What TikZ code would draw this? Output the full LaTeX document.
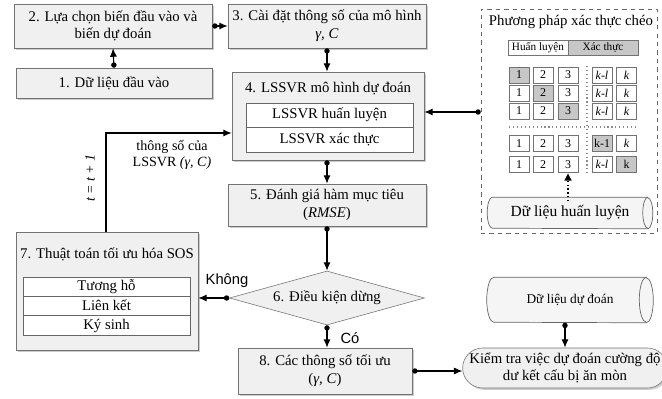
\documentclass[tikz,border=0pt]{standalone}
\usepackage{fontspec}
\setmainfont{Liberation Serif}
\newfontfamily\labelfont{Liberation Sans}
\usetikzlibrary{arrows.meta,shapes.geometric,shapes.misc,shadows}

\def\pxu{0.025cm}
\tikzset{
	stepbox/.style={draw=black!55, fill=black!6, align=center, inner sep=1pt,
		drop shadow={shadow xshift=1.3pt, shadow yshift=-1.3pt, fill=black!40},
		font=\fontsize{10.5}{12.5}\selectfont},
	subbox/.style={draw=black!60, fill=white, minimum width=167*\pxu, inner sep=0pt,
		font=\fontsize{10.5}{12}\selectfont},
	cell/.style={draw=black!55, fill=white, minimum width=20*\pxu, minimum height=16*\pxu,
		inner sep=0pt, font=\fontsize{8.5}{9}\selectfont},
	hcell/.style={cell, fill=black!22},
	cylbody/.style={draw=black!60, fill=black!4, line width=0.5pt},
	link/.style={line width=0.8pt, -{Latex[length=6pt,width=5pt]}},
	dotlink/.style={line width=0.8pt, {Circle[length=3.8pt]}-{Latex[length=6pt,width=5pt]}}
}

\begin{document}
\begin{tikzpicture}[x=0.025cm, y=-0.025cm]
	\useasboundingbox (0,0) rectangle (662,399);

	% left column
	\node[stepbox, minimum width=198*\pxu, minimum height=44*\pxu] (b2) at (113,26) {2. Lựa chọn biến đầu vào và\\biến dự đoán};
	\node[stepbox, minimum width=196*\pxu, minimum height=30*\pxu] (b1) at (114,83) {1. Dữ liệu đầu vào};

	\node[stepbox, minimum width=182*\pxu, minimum height=118*\pxu] (b7) at (107,291) {};
	\node[font=\fontsize{10.5}{12}\selectfont] (b7t) at (107,254) {7. Thuật toán tối ưu hóa SOS};
	\node[subbox, minimum height=19*\pxu] (r1) at (106.5,286.5) {Tương hỗ};
	\node[subbox, minimum height=19*\pxu] (r2) at (106.5,305.5) {Liên kết};
	\node[subbox, minimum height=20*\pxu] (r3) at (106.5,325.5) {Ký sinh};

	% middle column
	\node[stepbox, minimum width=198*\pxu, minimum height=44*\pxu] (b3) at (327,26) {3. Cài đặt thông số của mô hình\\\textit{γ, C}};

	\node[stepbox, minimum width=192*\pxu, minimum height=88*\pxu] (b4) at (328,116) {};
	\node[font=\fontsize{10.5}{12}\selectfont] (b4t) at (328,89) {4. LSSVR mô hình dự đoán};
	\node[subbox, minimum height=24*\pxu] (s1) at (329.5,115) {LSSVR huấn luyện};
	\node[subbox, minimum height=25*\pxu] (s2) at (329.5,139.5) {LSSVR xác thực};

	\node[stepbox, minimum width=198*\pxu, minimum height=42*\pxu] (b5) at (327,205) {5. Đánh giá hàm mục tiêu\\(\textit{RMSE})};

	\node[diamond, draw=black!55, fill=black!6, aspect=3.6, inner sep=0pt,
		minimum width=195*\pxu, minimum height=54*\pxu,
		font=\fontsize{10.5}{12}\selectfont] (b6) at (327,298) {6. Điều kiện dừng};

	\node[stepbox, minimum width=174*\pxu, minimum height=46*\pxu] (b8) at (325,371) {8. Các thông số tối ưu\\(\textit{γ, C})};

	% cross validation
	\node[draw=black!60, dashed, fill=white, minimum width=176*\pxu, minimum height=224*\pxu] (cv) at (569,121) {};
	\node[font=\fontsize{10.5}{12}\selectfont] (cvt) at (571,22) {Phương pháp xác thực chéo};
	\node[cell, minimum width=60*\pxu, minimum height=15*\pxu, font=\fontsize{8}{9}\selectfont] (lh) at (538,47.5) {Huấn luyện};
	\node[hcell, minimum width=70*\pxu, minimum height=15*\pxu, font=\fontsize{8}{9}\selectfont] (lx) at (603,47.5) {Xác thực};

	\node[hcell] (c11) at (519,75) {1}; \node[cell] (c12) at (543,75) {2}; \node[cell] (c13) at (568,75) {3};
	\node[cell] (c14) at (602,75) {\textit{k-l}}; \node[cell] (c15) at (626.5,75) {\textit{k}};
	\node[cell] (c21) at (519,93) {1}; \node[hcell] (c22) at (543,93) {2}; \node[cell] (c23) at (568,93) {3};
	\node[cell] (c24) at (602,93) {\textit{k-l}}; \node[cell] (c25) at (626.5,93) {\textit{k}};
	\node[cell] (c31) at (519,111) {1}; \node[cell] (c32) at (543,111) {2}; \node[hcell] (c33) at (568,111) {3};
	\node[cell] (c34) at (602,111) {\textit{k-l}}; \node[cell] (c35) at (626.5,111) {\textit{k}};
	\node[cell] (c41) at (519,143.5) {1}; \node[cell] (c42) at (543,143.5) {2}; \node[cell] (c43) at (568,143.5) {3};
	\node[hcell] (c44) at (602,143.5) {k-1}; \node[cell] (c45) at (626.5,143.5) {\textit{k}};
	\node[cell] (c51) at (519,164.5) {1}; \node[cell] (c52) at (543,164.5) {2}; \node[cell] (c53) at (568,164.5) {3};
	\node[cell] (c54) at (602,164.5) {\textit{k-l}}; \node[hcell] (c55) at (626.5,164.5) {k};

	\draw[black!45, dotted, thick] (587,66) -- (587,173);
	\draw[black!45, dotted, thick] (509,127) -- (637,127);

	% training data cylinder
	\node[minimum width=155*\pxu, minimum height=31*\pxu, inner sep=0pt] (dh) at (570,213) {};
	\draw[cylbody] (dh.north east) -- (dh.north west)
		arc[start angle=90, end angle=270, x radius=5*\pxu, y radius=15.5*\pxu] -- (dh.south east)
		arc[start angle=-90, end angle=90, x radius=5*\pxu, y radius=15.5*\pxu] -- cycle;
	\draw[cylbody, fill=none] (dh.north east) arc[start angle=90, end angle=270, x radius=5*\pxu, y radius=15.5*\pxu];
	\node[font=\fontsize{11}{12}\selectfont] (dht) at (dh) {Dữ liệu huấn luyện};
	\draw[dotted, thick, -{Triangle[length=5pt,width=5pt]}] ([yshift=-3pt]dh.north -| c53.south) -- ([yshift=-0.5pt]c53.south);

	% prediction data cylinder
	\node[minimum width=152*\pxu, minimum height=45*\pxu, inner sep=0pt] (dd) at (570,300) {};
	\draw[cylbody] (dd.north east) -- (dd.north west)
		arc[start angle=90, end angle=270, x radius=7*\pxu, y radius=22.5*\pxu] -- (dd.south east)
		arc[start angle=-90, end angle=90, x radius=7*\pxu, y radius=22.5*\pxu] -- cycle;
	\draw[cylbody, fill=none] (dd.north east) arc[start angle=90, end angle=270, x radius=7*\pxu, y radius=22.5*\pxu];
	\node[font=\fontsize{9.5}{11}\selectfont] (ddt) at (dd) {Dữ liệu dự đoán};

	\node[rounded rectangle, draw=black!55, fill=black!6, align=center, inner sep=0pt,
		minimum width=195*\pxu, minimum height=40*\pxu,
		drop shadow={shadow xshift=1.3pt, shadow yshift=-1.3pt, fill=black!40},
		font=\fontsize{10.5}{12}\selectfont] (kt) at (565,368) {Kiểm tra việc dự đoán cường độ\\dư kết cấu bị ăn mòn};

	% connectors
	\draw[dotlink] (b1.north) -- (b2.south);
	\draw[dotlink] (b2.east) -- (b3.west);
	\draw[dotlink] (b3.south) -- (b4.north -| b3.south);
	\coordinate (cvin) at (478,112);
	\draw[dotlink] (cv.west |- cvin) -- (b4.east |- cvin);
	\draw[dotlink] (b4.south -| b5.north) -- (b5.north);
	\draw[dotlink] (b5.south) -- (b6.north);
	\draw[dotlink] (b6.west) -- (b7.east |- b6.west);
	\draw[dotlink] (b6.south) -- (b8.north -| b6.south);
	\draw[dotlink] (b8.east) -- (kt.west |- b8.east);
	\draw[dotlink] (dd.south -| kt.north) -- (kt.north);

	\coordinate (fb) at (106,133);
	\draw[link] (b7.north -| fb) -- (fb) -- (b4.west |- fb);

	% labels
	\node[align=center, font=\fontsize{10}{11.5}\selectfont] (lp) at (172,155) {thông số của\\LSSVR \textit{(γ, C)}};
	\node[rotate=90, font=\fontsize{10}{11}\selectfont] (lt) at (90,178) {\textit{t = t + 1}};
	\node[font=\labelfont\fontsize{10.5}{12}\selectfont] (lk) at (227,281) {Không};
	\node[font=\labelfont\fontsize{10.5}{12}\selectfont] (lc) at (350,338) {Có};
\end{tikzpicture}
\end{document}
